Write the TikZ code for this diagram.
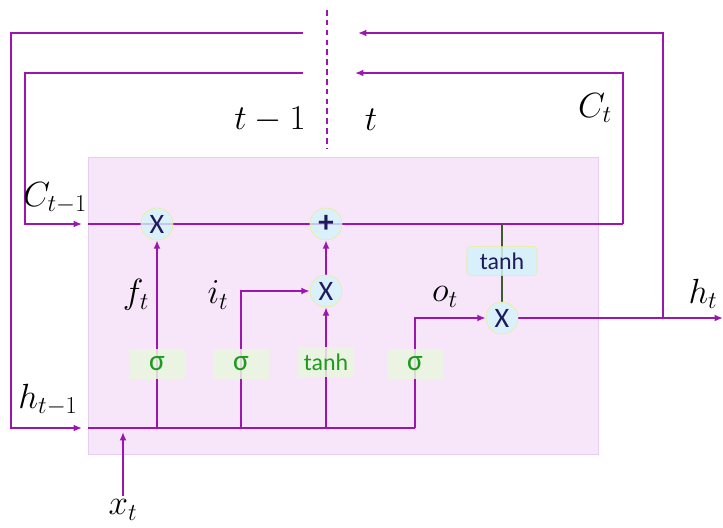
\documentclass[tikz,border=0pt]{standalone}
\usepackage{fontspec}
\setmainfont{Carlito}
\usepackage{amsmath}
\usetikzlibrary{arrows.meta, positioning, calc}
\definecolor{lstm}{HTML}{9A16AE}
\definecolor{cellbg}{HTML}{F7E5FA}
\definecolor{cellrim}{HTML}{E8CDEF}
\definecolor{gatefill}{HTML}{D3F3FA}
\definecolor{gaterim}{HTML}{EEEE88}
\definecolor{actfill}{HTML}{E9F7DF}
\definecolor{acttext}{HTML}{1E9A1E}
\definecolor{opnavy}{HTML}{1F1A5C}
\definecolor{stemgreen}{HTML}{3E5A2E}
\pgfdeclarelayer{background}
\pgfdeclarelayer{wires}
\pgfsetlayers{background,wires,main}

\begin{document}
\begin{tikzpicture}[x=0.025cm, y=-0.025cm,
    wire/.style={draw=lstm, line width=2.1pt},
    flow/.style={wire, -{Latex[length=6pt, width=5pt]}},
    opnode/.style={circle, minimum size=0.8cm, inner sep=0pt,
      fill=gatefill, fill opacity=0.8, text opacity=1, draw=gaterim,
      text=opnavy, font=\fontsize{20}{22}\selectfont},
    actbox/.style={rectangle, minimum width=1.375cm, minimum height=0.75cm,
      inner sep=0pt, fill=actfill, fill opacity=0.85, text opacity=1,
      text=acttext, font=\fontsize{21}{24}\selectfont},
    tanhbox/.style={rectangle, rounded corners=2pt, minimum width=1.75cm,
      minimum height=0.72cm, inner sep=0pt, fill=gatefill, fill opacity=0.85,
      text opacity=1, draw=gaterim, text=opnavy, font=\fontsize{17}{20}\selectfont},
    lbl/.style={font=\fontsize{25}{29}\selectfont}]
  \useasboundingbox (0,0) rectangle (723,527);

  % cell body
  \begin{pgfonlayer}{background}
    \fill[cellbg, draw=cellrim, line width=0.6pt] (88,157) rectangle (598,454);
  \end{pgfonlayer}

  % gates and activations
  \node[opnode] (fx) at (157,224) {X};
  \node[opnode, font=\fontsize{22}{24}\bfseries] (plus) at (326,224) {+};
  \node[opnode] (ix) at (326,291) {X};
  \node[opnode] (ox) at (502,318) {X};
  \node[actbox] (sf) at (157,364) {σ};
  \node[actbox] (si) at (241,364) {σ};
  \node[actbox, font=\fontsize{17}{20}\selectfont] (tc) at (326,362) {tanh};
  \node[actbox] (so) at (415,364) {σ};
  \node[tanhbox] (th) at (502,261) {tanh};

  % free ends
  \coordinate (cin) at (88,224);
  \coordinate (hin) at (88,428);
  \coordinate (cend) at (82,224);
  \coordinate (hend) at (82,428);
  \coordinate (cloop) at (25,224);
  \coordinate (hloop) at (11,428);
  \coordinate (cgapL) at (303,73);
  \coordinate (hgapL) at (303,33);
  \coordinate (cgapR) at (355,73);
  \coordinate (hgapR) at (358,33);
  \coordinate (cturn) at (623,224);
  \coordinate (split) at (663,318);
  \coordinate (hout) at (723,318);
  \coordinate (xin) at (123,496);
  \coordinate (xtip) at (123,432);
  \coordinate (dtop) at (327,10);
  \coordinate (dbot) at (327,148);

  \begin{pgfonlayer}{wires}
    % cell state
    \draw[wire] (cin) -- (cturn);
    \draw[flow] (cturn) |- (cgapR);
    \draw[flow] (cgapL) -| (cloop) -- (cend);
    % hidden state
    \draw[flow] (hgapL) -| (hloop) -- (hend);
    \draw[flow] (xin) -- (xtip);
    \draw[wire] (hin) -- (so |- hin);
    \draw[flow] (sf |- hin) -- (fx);
    \draw[flow] (si |- hin) -- (si |- ix) -- (ix);
    \draw[flow] (tc |- hin) -- (ix);
    \draw[flow] (ix) -- (plus);
    \draw[flow] (so |- hin) -- (so |- ox) -- (ox);
    \draw[stemgreen, line width=1.6pt] (th |- cin) -- (ox);
    \draw[flow] (ox) -- (hout);
    \draw[flow] (split) |- (hgapR);
    % time step boundary
    \draw[lstm, line width=1.8pt, dash pattern=on 4pt off 3pt] (dtop) -- (dbot);
  \end{pgfonlayer}

  % labels
  \node[lbl] (tprev) at (270,120) {$t-1$};
  \node[lbl] (tnow) at (371,120) {$t$};
  \node[lbl] (ct) at (595,108) {$C_t$};
  \node[lbl] (cprev) at (55,198) {$C_{t-1}$};
  \node[lbl] (hprev) at (48,400) {$h_{t-1}$};
  \node[lbl] (ft) at (136,295) {$f_t$};
  \node[lbl] (it) at (218,295) {$i_t$};
  \node[lbl] (ot) at (445,297) {$o_t$};
  \node[lbl] (ht) at (703,294) {$h_t$};
  \node[lbl] (xt) at (123,510) {$x_t$};
\end{tikzpicture}
\end{document}
